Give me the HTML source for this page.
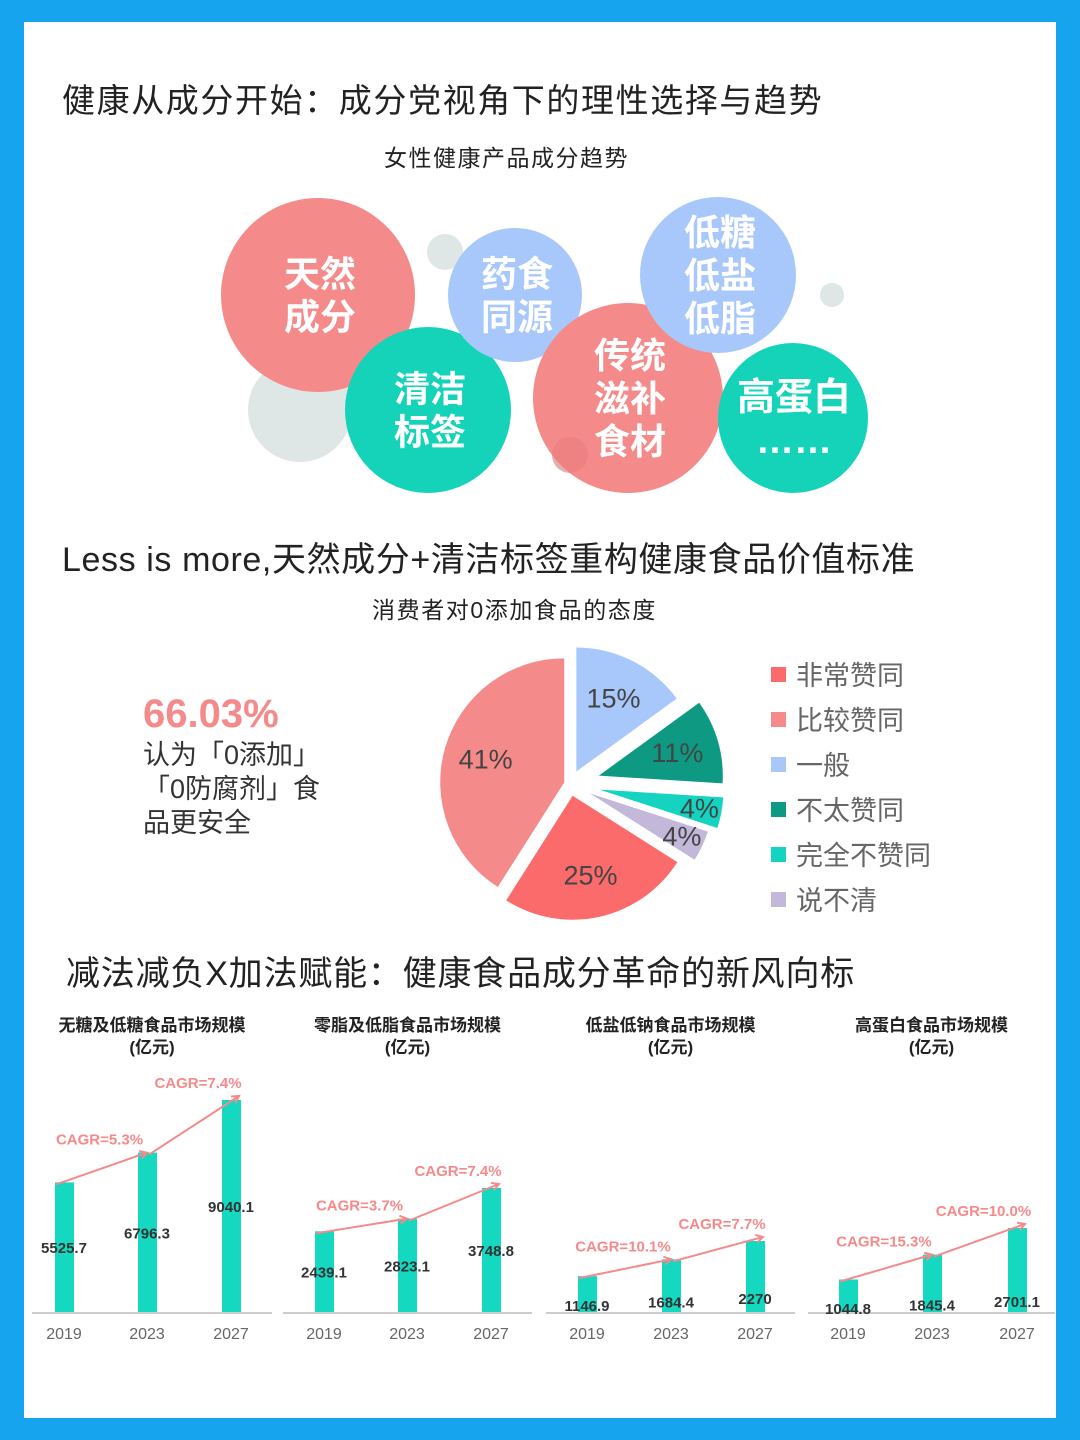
<!DOCTYPE html>
<html><head><meta charset="utf-8">
<style>
body{margin:0;width:1080px;height:1440px;background:#16a4ee;overflow:hidden;font-family:"Liberation Sans","Noto Sans CJK SC",sans-serif;}
#page{position:absolute;left:24px;top:22px;width:1032px;height:1396px;background:#fff;}
.t{position:absolute;white-space:nowrap;color:#222;}
</style></head><body>
<div id="page"></div>
<svg id="svg" width="1080" height="1440" style="position:absolute;left:0;top:0"></svg>
<div class="t" style="left:62px;top:74px;font-size:33px;letter-spacing:1.6px;">健康从成分开始：成分党视角下的理性选择与趋势</div>
<div class="t" style="left:384px;top:139px;font-size:23px;letter-spacing:1.5px;">女性健康产品成分趋势</div>
<div class="t" style="left:62px;top:532px;font-size:34px;letter-spacing:0.6px;">Less is more,天然成分+清洁标签重构健康食品价值标准</div>
<div class="t" style="left:372px;top:591px;font-size:23px;letter-spacing:1.6px;">消费者对0添加食品的态度</div>
<div class="t" style="left:143px;top:692px;font-size:40px;font-weight:bold;color:#f58a8a;">66.03%</div>
<div class="t" style="left:143px;top:738px;font-size:27px;line-height:34px;color:#333;">认为「0添加」<br>「0防腐剂」食<br>品更安全</div>
<div class="t" style="left:66px;top:946px;font-size:34px;letter-spacing:0.8px;">减法减负X加法赋能：健康食品成分革命的新风向标</div>
<script>
const NS="http://www.w3.org/2000/svg";
const svg=document.getElementById('svg');
function mk(tag,attrs,parent){const e=document.createElementNS(NS,tag);for(const k in attrs)e.setAttribute(k,attrs[k]);(parent||svg).appendChild(e);return e;}
function txt(x,y,s,attrs){const e=mk('text',Object.assign({x:x,y:y},attrs));e.textContent=s;return e;}

// bubbles
const bubbleLabels=[["天然","成分"],["清洁","标签"],["药食","同源"],["传统","滋补","食材"],["低糖","低盐","低脂"],["高蛋白","……"]];
const greys=[[300,410,52],[445,252,18],[832,295,12],[570,455,18]];
greys.forEach(g=>{const c=mk('circle',{cx:g[0],cy:g[1],r:g[2],fill:'#dfe6e6'});
});
const bub=[[318,295,97,'#f58a8a'],[428,410,83,'#14d3b8'],[515,295,67,'#a8c8fb'],[628,398,95,'#f58a8a'],[718,275,78,'#a8c8fb'],[793,418,75,'#14d3b8']];
bub.forEach((b,i)=>{const g=mk('g',{});

mk('circle',{cx:b[0],cy:b[1],r:b[2],fill:b[3]},g);
const L=bubbleLabels[i];const fs=i==5?38:36;const lh=43;const y0=b[1]-(L.length-1)*lh/2+fs*0.36;
L.forEach((s,j)=>{const t=mk('text',{x:b[0]+(i==5?1:2),y:y0+j*lh,'text-anchor':'middle','font-size':fs,'font-weight':'bold',fill:'#fff'},g);t.textContent=s;});});
mk('circle',{cx:570,cy:455,r:18,fill:'#e87a7a',opacity:0.5});

// pie
const pieLabels=["一般","不太赞同","完全不赞同","说不清","非常赞同","比较赞同"];
const pieValues=[15,11,4,4,25,41];
const pieColors=['#a8c8fb','#0e9a82','#14d3c0','#c3b7da','#fb6b6b','#f58a8a'];
const explode=[14,30,30,22,12,6];
const cx=570,cy=784,R=124;
let a0=0;const tot=pieValues.reduce((a,b)=>a+b,0);
pieValues.forEach((v,i)=>{const a1=a0+v/tot*360;const mid=(a0+a1)/2*Math.PI/180;
const ox=cx+explode[i]*Math.sin(mid),oy=cy-explode[i]*Math.cos(mid);
const p=(a)=>[ox+R*Math.sin(a*Math.PI/180),oy-R*Math.cos(a*Math.PI/180)];
const s=p(a0),e=p(a1);const large=(a1-a0)>180?1:0;
const path=mk('path',{d:`M${ox},${oy}L${s[0]},${s[1]}A${R},${R} 0 ${large} 1 ${e[0]},${e[1]}Z`,fill:pieColors[i]});

const lr=(v<6)?R*0.82:R*0.66;
const t=txt(ox+lr*Math.sin(mid),oy-lr*Math.cos(mid)+9,v+'%',{'text-anchor':'middle','font-size':27,fill:'#444'});

a0=a1;});
// legend
const legOrder=[4,5,0,1,2,3];
legOrder.forEach((k,j)=>{const y=675+j*45;const g=mk('g',{});

mk('rect',{x:771,y:y-8,width:15,height:15,fill:pieColors[k]},g);
const t=mk('text',{x:796,y:y+10,'font-size':27,fill:'#666'},g);t.textContent=pieLabels[k];});

// bar charts
const years=["2019","2023","2027"];
const chartTitles=["无糖及低糖食品市场规模","零脂及低脂食品市场规模","低盐低钠食品市场规模","高蛋白食品市场规模"];
const s1=[5525.7,6796.3,9040.1];
const s2=[2439.1,2823.1,3748.8];
const s3=[1146.9,1684.4,2270];
const s4=[1044.8,1845.4,2701.1];
const series=[s1,s2,s3,s4];
const cagr=[["CAGR=5.3%","CAGR=7.4%"],["CAGR=3.7%","CAGR=7.4%"],["CAGR=10.1%","CAGR=7.7%"],["CAGR=15.3%","CAGR=10.0%"]];
const base=1312;
const layout=[{x0:32,x1:272,bx:[64,147,231],max:9040.1,h:212,lf:0.5},{x0:283,x1:532,bx:[324,407,491],max:3748.8,h:124,lf:0.5},{x0:546,x1:795,bx:[587,671,755],max:2270,h:71,lf:0.2},{x0:808,x1:1055,bx:[848,932,1017],max:2701.1,h:84,lf:0.13}];
const defs=mk('defs',{});
const mkr=mk('marker',{id:'ar',markerWidth:10,markerHeight:10,refX:8,refY:5,orient:'auto',markerUnits:'userSpaceOnUse'},defs);
mk('path',{d:'M1,1L8,5L1,9',fill:'none',stroke:'#f58a8a','stroke-width':2},mkr);
series.forEach((vals,ci)=>{const L=layout[ci];const g=mk('g',{});

const yS=v=>base-v/L.max*L.h;
const cxm=(L.x0+L.x1)/2;
const t1=mk('text',{x:cxm,y:1031,'text-anchor':'middle','font-size':17,'font-weight':'bold',fill:'#222'},g);t1.textContent=chartTitles[ci];
const t2=mk('text',{x:cxm,y:1053,'text-anchor':'middle','font-size':17,'font-weight':'bold',fill:'#222'},g);t2.textContent='(亿元)';
mk('line',{x1:L.x0,x2:L.x1,y1:base+1,y2:base+1,stroke:'#ccc','stroke-width':2},g);
vals.forEach((v,i)=>{const r=mk('rect',{x:L.bx[i]-9,y:yS(v),width:19,height:base-yS(v),fill:'#14d8c0'},g);

const ly=base-(base-yS(v))*L.lf+6;
const vt=mk('text',{x:L.bx[i],y:ly,'text-anchor':'middle','font-size':15,'font-weight':'bold',fill:'#333'},g);vt.textContent=v;
const yt=mk('text',{x:L.bx[i],y:1339,'text-anchor':'middle','font-size':16,fill:'#666'},g);yt.textContent=years[i];});
for(let i=0;i<2;i++){const xa=L.bx[i]-(i==0?8:-2),ya=yS(vals[i])+2,xb=L.bx[i+1]+(i==1?8:0),yb=yS(vals[i+1])-(i==1?4:0);
mk('line',{x1:xa,y1:ya,x2:xb,y2:yb,stroke:'#f58a8a','stroke-width':2,'marker-end':'url(#ar)'},g);
const ct=mk('text',{x:(xa+xb)/2+(i==1?4:-2),y:Math.min(ya,yb)-8,'text-anchor':'middle','font-size':15,'font-weight':'bold',fill:'#f58a8a'},g);ct.textContent=cagr[ci][i];}
});
</script>
</body></html>
